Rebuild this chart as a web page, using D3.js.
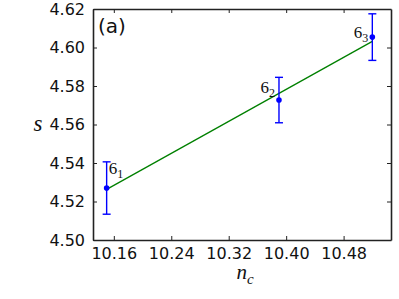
<!DOCTYPE html>
<html lang="en">
<head>
    <meta charset="UTF-8">
    <title>s vs n_c</title>
    <script src="https://d3js.org/d3.v7.min.js"></script>
    <style>
        body { margin: 0; background: #fff; }
        svg { display: block; }
    </style>
</head>
<body>
<svg id="chart" width="399" height="299"></svg>
<script>
    // data
    const nc = [10.15, 10.39, 10.52];
    const sVal = [4.527, 4.5727, 4.6054];
    const sErr = [0.0136, 0.0118, 0.0121];
    const pointNames = ["1", "2", "3"];

    // fitted line end points
    const fitX = [10.15, 10.52];
    const fitY = [4.5263, 4.6032];

    const xTicks = [10.16, 10.24, 10.32, 10.40, 10.48];
    const yTicks = [4.50, 4.52, 4.54, 4.56, 4.58, 4.60, 4.62];

    const svg = d3.select("#chart");
    const margin = { top: 9, right: 8, bottom: 59, left: 93 };
    const W = +svg.attr("width"), H = +svg.attr("height");

    const x = d3.scaleLinear()
        .domain([10.131, 10.546])
        .range([margin.left, W - margin.right]);
    const y = d3.scaleLinear()
        .domain([4.50, 4.62])
        .range([H - margin.bottom, margin.top]);

    const font = "DejaVu Sans, sans-serif";
    const tickLen = 4;

    // axes, ticks pointing inward on all four sides
    const axes = [
        { axis: d3.axisBottom(x).tickValues(xTicks).tickFormat(d3.format(".2f")), at: `translate(0,${y.range()[0]})` },
        { axis: d3.axisTop(x).tickValues(xTicks).tickFormat(""), at: `translate(0,${y.range()[1]})` },
        { axis: d3.axisLeft(y).tickValues(yTicks).tickFormat(d3.format(".2f")), at: `translate(${x.range()[0]},0)` },
        { axis: d3.axisRight(y).tickValues(yTicks).tickFormat(""), at: `translate(${x.range()[1]},0)` }
    ];
    axes.forEach(a => {
        const g = svg.append("g")
            .attr("transform", a.at)
            .call(a.axis.tickSizeInner(-tickLen).tickSizeOuter(0).tickPadding(8));
        g.select(".domain").attr("stroke", "#222").attr("stroke-width", 1.6);
        g.selectAll(".tick line").attr("stroke", "#222").attr("stroke-width", 1);
        g.selectAll(".tick text")
            .attr("font-family", font)
            .attr("font-size", "16px")
            .attr("fill", "#111");
    });

    // fit line
    svg.append("path")
        .datum(d3.zip(fitX, fitY))
        .attr("fill", "none")
        .attr("stroke", "#008000")
        .attr("stroke-width", 1.3)
        .attr("d", d3.line().x(d => x(d[0])).y(d => y(d[1])));

    const pts = nc.map((v, i) => ({ x: v, s: sVal[i], e: sErr[i], name: pointNames[i] }));

    // error bars
    const eb = svg.append("g").attr("stroke", "#0000ff").attr("stroke-width", 1.4);
    pts.forEach(d => {
        eb.append("line")
            .attr("x1", x(d.x)).attr("x2", x(d.x))
            .attr("y1", y(d.s - d.e)).attr("y2", y(d.s + d.e));
        [d.s - d.e, d.s + d.e].forEach(v => {
            eb.append("line")
                .attr("x1", x(d.x) - 4).attr("x2", x(d.x) + 4)
                .attr("y1", y(v)).attr("y2", y(v));
        });
    });

    svg.selectAll(".pt")
        .data(pts)
        .enter()
        .append("circle")
        .attr("cx", d => x(d.x))
        .attr("cy", d => y(d.s))
        .attr("r", 2.8)
        .attr("fill", "#0000ff");

    // point labels 6_1, 6_2, 6_3
    const labelOffset = [[2, -14, "start"], [-4, -7, "end"], [-4, 1, "end"]];
    pts.forEach((d, i) => {
        const [dx, dy, anchor] = labelOffset[i];
        const t = svg.append("text")
            .attr("x", x(d.x) + dx)
            .attr("y", y(d.s) + dy)
            .attr("text-anchor", anchor)
            .attr("font-family", "Liberation Serif, serif")
            .attr("font-size", "17px")
            .attr("fill", "#111");
        t.append("tspan").text("6");
        t.append("tspan").attr("dy", 4).attr("font-size", "12px").text(d.name);
    });

    // panel tag
    svg.append("text")
        .attr("x", 98)
        .attr("y", 33)
        .attr("font-family", font)
        .attr("font-size", "20px")
        .attr("fill", "#111")
        .text("(a)");

    // axis titles
    svg.append("text")
        .attr("x", 38)
        .attr("y", 131)
        .attr("text-anchor", "middle")
        .attr("font-family", "Liberation Serif, serif")
        .attr("font-style", "italic")
        .attr("font-size", "23px")
        .attr("fill", "#111")
        .text("s");

    const xt = svg.append("text")
        .attr("x", 245)
        .attr("y", 279)
        .attr("text-anchor", "middle")
        .attr("font-family", "Liberation Serif, serif")
        .attr("font-style", "italic")
        .attr("font-size", "21px")
        .attr("fill", "#111");
    xt.append("tspan").text("n");
    xt.append("tspan").attr("dy", 5).attr("font-size", "15px").text("c");
</script>
</body>
</html>
